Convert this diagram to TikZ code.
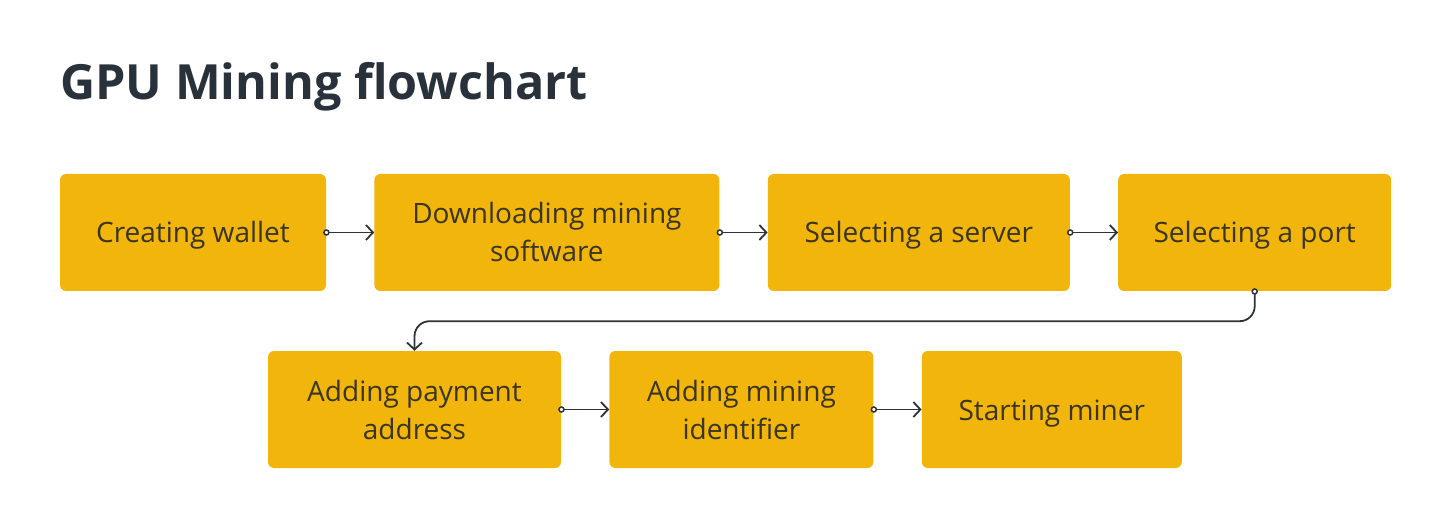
\documentclass[tikz,border=0pt]{standalone}
\usepackage{fontspec}
\setmainfont{Open Sans}
\usetikzlibrary{arrows.meta,positioning}
\definecolor{cyellow}{HTML}{F2B50B}
\definecolor{ctext}{HTML}{3A3520}
\definecolor{ctitle}{HTML}{29323A}
\definecolor{cline}{HTML}{2D3338}

\begin{document}
\begin{tikzpicture}[x=1pt,y=1pt,node distance=48pt,
  step node/.style={rectangle,rounded corners=6pt,fill=cyellow,text=ctext,
    minimum height=117pt,align=center,inner sep=0pt,
    font=\fontsize{28}{38}\selectfont},
  one line/.style={text height=21pt,text depth=0pt},
  flow/.style={draw=cline,line width=1.8pt,
    {Circle[open,fill=white,length=6.5pt,width=6.5pt,line width=1.5pt]}-{Straight Barb[length=7pt,width=15pt,line width=1.8pt]},
    shorten <=-3pt}]
  \useasboundingbox (0,0) rectangle (1450,-526);
  \node[anchor=base west,inner sep=0pt,text=ctitle,font=\fontsize{48.5}{56}\selectfont\bfseries] (title) at (60,-100) {GPU Mining flowchart};

  \node[step node,one line,minimum width=266pt] (1) at (193,-232.5) {Creating wallet};
  \node[step node,minimum width=345pt] (2) [right=of 1] {Downloading mining\\software};
  \node[step node,one line,minimum width=302pt] (3) [right=of 2] {Selecting a server};
  \node[step node,one line,minimum width=273pt] (4) [right=of 3] {Selecting a port};
  \node[step node,minimum width=293pt] (5) at (414.5,-409.5) {Adding payment\\address};
  \node[step node,minimum width=264pt] (6) [right=of 5] {Adding mining\\identifier};
  \node[step node,one line,minimum width=260pt] (7) [right=of 6] {Starting miner};

  \path[flow]
    (1) edge (2)
    (2) edge (3)
    (3) edge (4)
    (5) edge (6)
    (6) edge (7);
  \draw[flow,rounded corners=15pt] (4.south) -- ++(0,-30) -| (5.north);
\end{tikzpicture}
\end{document}
